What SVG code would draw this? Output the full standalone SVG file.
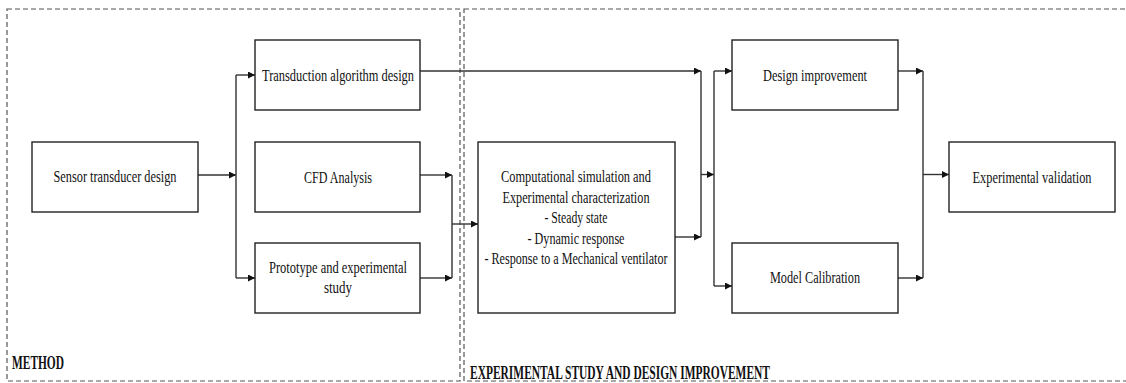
<svg xmlns="http://www.w3.org/2000/svg" width="1126" height="383" viewBox="0 0 1126 383">
<style>
.box{fill:#fff;stroke:#222;stroke-width:1.4}
.frame{fill:none;stroke:#555;stroke-width:1.2;stroke-dasharray:5 3}
.con{fill:none;stroke:#333;stroke-width:1.4}
.arr{marker-end:url(#ah)}
text{font-family:"Liberation Serif","Times New Roman",serif;font-size:16px;fill:#111}
.t{text-anchor:middle}
.lbl{font-size:18px;font-weight:bold}
</style>
<defs>
<marker id="ah" viewBox="0 0 8 8" refX="8" refY="4" markerWidth="7" markerHeight="7" markerUnits="userSpaceOnUse" orient="auto">
<path d="M0,0 L8,4 L0,8 z" fill="#111"/>
</marker>
</defs>
<g id="frames">
<rect class="frame" x="7" y="9" width="453" height="372"/>
<rect class="frame" x="464" y="9" width="670" height="372"/>
<text class="lbl" x="12" y="369" textLength="52" lengthAdjust="spacingAndGlyphs">METHOD</text>
<text class="lbl" x="470" y="379" textLength="300" lengthAdjust="spacingAndGlyphs">EXPERIMENTAL STUDY AND DESIGN IMPROVEMENT</text>
</g>
<g id="connectors">
<line class="con arr" x1="198" y1="175" x2="236" y2="175"/>
<line class="con" x1="236" y1="75" x2="236" y2="278"/>
<line class="con arr" x1="236" y1="75" x2="255" y2="75"/>
<line class="con arr" x1="236" y1="278" x2="255" y2="278"/>
<line class="con arr" x1="420" y1="175" x2="452" y2="175"/>
<line class="con arr" x1="420" y1="278" x2="452" y2="278"/>
<line class="con" x1="452" y1="175" x2="452" y2="278"/>
<line class="con arr" x1="452" y1="224" x2="478" y2="224"/>
<line class="con arr" x1="420" y1="71" x2="701" y2="71"/>
<line class="con arr" x1="675" y1="237" x2="701" y2="237"/>
<line class="con" x1="701" y1="71" x2="701" y2="237"/>
<line class="con arr" x1="701" y1="174.5" x2="714" y2="174.5"/>
<line class="con" x1="714" y1="71" x2="714" y2="286"/>
<line class="con arr" x1="714" y1="71" x2="732" y2="71"/>
<line class="con arr" x1="714" y1="286" x2="732" y2="286"/>
<line class="con arr" x1="898" y1="71" x2="923" y2="71"/>
<line class="con arr" x1="898" y1="278" x2="923" y2="278"/>
<line class="con" x1="923" y1="71" x2="923" y2="278"/>
<line class="con arr" x1="923" y1="174.5" x2="949" y2="174.5"/>
</g>
<g id="sensor">
<rect class="box" x="32" y="142" width="166" height="70"/>
<text class="t" x="115" y="182" textLength="123" lengthAdjust="spacingAndGlyphs">Sensor transducer design</text>
</g>
<g id="transduction">
<rect class="box" x="255" y="40" width="165" height="70"/>
<text class="t" x="338" y="81" textLength="152" lengthAdjust="spacingAndGlyphs">Transduction algorithm design</text>
</g>
<g id="cfd">
<rect class="box" x="255" y="142" width="165" height="70"/>
<text class="t" x="338" y="183" textLength="68" lengthAdjust="spacingAndGlyphs">CFD Analysis</text>
</g>
<g id="prototype">
<rect class="box" x="255" y="243" width="165" height="70"/>
<text class="t" x="338" y="273" textLength="138" lengthAdjust="spacingAndGlyphs">Prototype and experimental</text>
<text class="t" x="338" y="293" textLength="28" lengthAdjust="spacingAndGlyphs">study</text>
</g>
<g id="computational">
<rect class="box" x="478" y="142" width="197" height="171"/>
<text class="t" x="576" y="182" textLength="150" lengthAdjust="spacingAndGlyphs">Computational simulation and</text>
<text class="t" x="576" y="202.5" textLength="147" lengthAdjust="spacingAndGlyphs">Experimental characterization</text>
<text class="t" x="576" y="223" textLength="63" lengthAdjust="spacingAndGlyphs">- Steady state</text>
<text class="t" x="576" y="243.5" textLength="97" lengthAdjust="spacingAndGlyphs">- Dynamic response</text>
<text class="t" x="576" y="264" textLength="183" lengthAdjust="spacingAndGlyphs">- Response to a Mechanical ventilator</text>
</g>
<g id="design">
<rect class="box" x="732" y="40" width="166" height="70"/>
<text class="t" x="815" y="81" textLength="104" lengthAdjust="spacingAndGlyphs">Design improvement</text>
</g>
<g id="model">
<rect class="box" x="732" y="243" width="166" height="70"/>
<text class="t" x="815" y="283" textLength="90" lengthAdjust="spacingAndGlyphs">Model Calibration</text>
</g>
<g id="validation">
<rect class="box" x="949" y="142" width="166" height="70"/>
<text class="t" x="1032" y="183" textLength="119" lengthAdjust="spacingAndGlyphs">Experimental validation</text>
</g>
</svg>
